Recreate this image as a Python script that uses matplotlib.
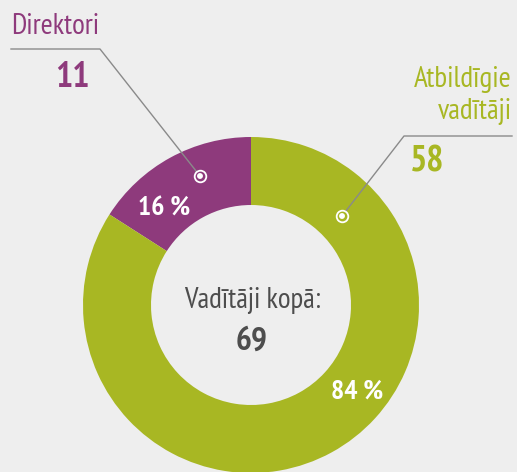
import matplotlib
matplotlib.use("Agg")
import matplotlib.pyplot as plt

# Data
labels = ["Direktori", "Atbildīgie\nvadītāji"]
counts = [11, 58]
colors = ["#8e3a7c", "#a8b723"]
total_label = "Vadītāji kopā:"

W, H = 517, 472
bg = "#eeeeee"
grey_text = "#4d4d4d"
line_col = "#8a8a8a"

plt.rcParams["font.family"] = ["PT Sans Narrow", "Fira Sans Condensed", "DejaVu Sans"]

fig = plt.figure(figsize=(W / 100, H / 100), dpi=100, facecolor=bg)
ax = fig.add_axes([0, 0, 1, 1])
ax.set_facecolor(bg)

cx, cy = 251, H - 305
R = 168
ring = 68

total = sum(counts)
wedges, _ = ax.pie(counts, colors=colors, startangle=90, counterclock=True,
                   center=(cx, cy), radius=R,
                   wedgeprops=dict(width=ring, edgecolor="none"))
ax.set_xlim(0, W)
ax.set_ylim(0, H)
ax.set_aspect("equal")
ax.axis("off")

def py(y):
    return H - y

pct = [round(100 * c / total) for c in counts]

# percent labels inside ring
ax.text(164, py(216), f"{pct[0]} %", color="white", fontsize=20, fontweight="bold",
        ha="center", va="baseline")
ax.text(357, py(399), f"{pct[1]} %", color="white", fontsize=20, fontweight="bold",
        ha="center", va="baseline")

# centre text
ax.text(252, py(308), total_label, color=grey_text, fontsize=21, ha="center", va="baseline")
ax.text(252, py(350), str(total), color=grey_text, fontsize=24, fontweight="bold",
        ha="center", va="baseline")

# leader lines and markers
ax.plot([11, 100, 200], [py(49), py(49), py(176)], color=line_col, lw=1, zorder=3)
ax.plot([512, 404, 342], [py(136), py(136), py(216)], color=line_col, lw=1, zorder=3)
for mx, my, c in [(200, 176, colors[0]), (342, 216, colors[1])]:
    ax.scatter([mx], [py(my)], s=70, facecolor=c, edgecolor="white", linewidth=1.3, zorder=4)
    ax.scatter([mx], [py(my)], s=18, facecolor="white", edgecolor="none", zorder=5)

# category labels
ax.text(11, py(34), labels[0], color=colors[0], fontsize=21, ha="left", va="baseline")
ax.text(90, py(87), str(counts[0]), color=colors[0], fontsize=26, fontweight="bold",
        ha="right", va="baseline")
for i, line in enumerate(labels[1].split("\n")):
    ax.text(512, py(87 + 32 * i), line, color=colors[1], fontsize=21, ha="right",
            va="baseline")
ax.text(410, py(172), str(counts[1]), color=colors[1], fontsize=26, fontweight="bold",
        ha="left", va="baseline")

fig.savefig("out.png", dpi=100, facecolor=bg)
